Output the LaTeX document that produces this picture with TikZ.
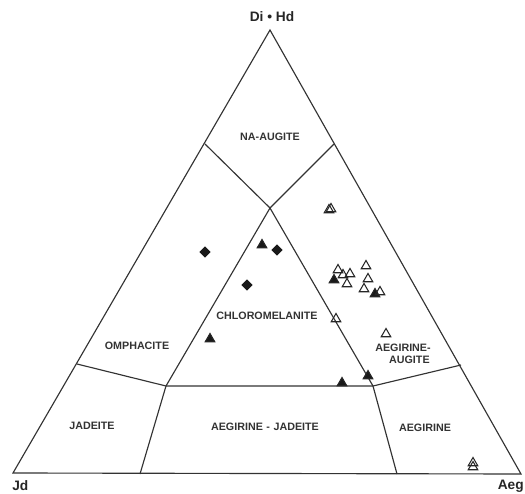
\documentclass[tikz,border=0pt]{standalone}
\usepackage{fontspec}
\setmainfont{Liberation Sans}
\usetikzlibrary{shapes.geometric}

\tikzset{
  edge/.style={line width=0.65pt, black!80},
  lbl/.style={font=\bfseries\fontsize{6.1}{7}\selectfont, text=black!80, inner sep=0pt},
  corner/.style={font=\bfseries\fontsize{7.8}{9}\selectfont, text=black!85, inner sep=0pt},
  opentri/.style={regular polygon, regular polygon sides=3, draw=black!85, line width=0.6pt, minimum size=2.2mm, inner sep=0pt},
  filltri/.style={opentri, fill=black!90},
  filldiam/.style={diamond, fill=black!90, minimum size=2.3mm, inner sep=0pt}
}

\begin{document}
\begin{tikzpicture}[x=0.02cm,y=-0.02cm]
      \useasboundingbox (0,0) rectangle (525,494);
      % corners of the diagram
      \coordinate (Jd) at (13,473);
      \coordinate (Aeg) at (521,474);
      \coordinate (DiHd) at (270,30);
      \coordinate (naL) at (205,144);
      \coordinate (naR) at (334,144);
      \coordinate (cmTop) at (270,208);
      \coordinate (omL) at (77,364);
      \coordinate (agR) at (461,365);
      \coordinate (jdL) at (166,386);
      \coordinate (jdR) at (373,386);
      \coordinate (botL) at (140,474);
      \coordinate (botR) at (397,474);
      \draw [edge] (Jd) -- (Aeg) -- (DiHd) -- cycle;
      \draw [edge] (naL) -- (cmTop) -- (naR);
      \draw [edge] (omL) -- (jdL) -- (jdR) -- (agR);
      \draw [edge] (jdL) -- (cmTop) -- (jdR);
      \draw [edge] (botL) -- (jdL);
      \draw [edge] (botR) -- (jdR);
      % end members
      \node[corner] (lDiHd) at (272,17) {Di • Hd};
      \node[corner, anchor=west] (lJd) at (12,486) {Jd};
      \node[corner, anchor=east] (lAeg) at (524,486) {Aeg};
      % fields
      \node[lbl] (lNaAug) at (270,137) {NA-AUGITE};
      \node[lbl] (lChlor) at (267,316) {CHLOROMELANITE};
      \node[lbl] (lOmph) at (137,346) {OMPHACITE};
      \node[lbl, align=center] (lAegAug) at (403,354) {AEGIRINE-\\[-0.5pt]\hspace*{1.2em}AUGITE};
      \node[lbl] (lJade) at (92,426) {JADEITE};
      \node[lbl] (lAegJd) at (265,427) {AEGIRINE\,\,-\,\,JADEITE};
      \node[lbl] (lAegi) at (425,428) {AEGIRINE};
      % samples
      \node[filldiam] (d1) at (205,252) {};
      \node[filldiam] (d2) at (277,250) {};
      \node[filldiam] (d3) at (247,285) {};
      \node[filltri] (f1) at (262,245) {};
      \node[filltri] (f2) at (210,339) {};
      \node[filltri] (f3) at (334,280) {};
      \node[filltri] (f4) at (375,294) {};
      \node[filltri] (f5) at (342,383) {};
      \node[filltri] (f6) at (368,376) {};
      \node[opentri] (o1) at (329,210) {};
      \node[opentri] (o2) at (331,209) {};
      \node[opentri] (o3) at (338,270) {};
      \node[opentri] (o4) at (343,275) {};
      \node[opentri] (o5) at (350,274) {};
      \node[opentri] (o6) at (347,284) {};
      \node[opentri] (o7) at (366,266) {};
      \node[opentri] (o8) at (368,279) {};
      \node[opentri] (o9) at (364,289) {};
      \node[opentri] (o10) at (380,292) {};
      \node[opentri] (o11) at (336,319) {};
      \node[opentri] (o12) at (386,334) {};
      \node[opentri] (o13) at (473,463) {};
      \node[opentri] (o14) at (473,467) {};
\end{tikzpicture}
\end{document}
